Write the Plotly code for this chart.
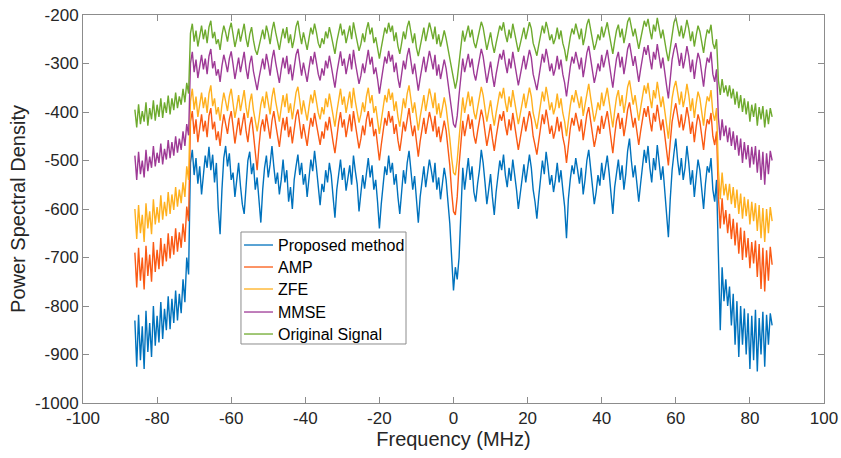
import numpy as np
import plotly.graph_objects as go

# frequency bins (MHz): -86 ... 86 in 0.5 MHz steps
f_start, f_step = -86.0, 0.5

proposed = [
    -830, -925, -818, -912, -842, -930, -810, -895, -835, -905,
    -800, -882, -820, -875, -792, -868, -806, -850, -780, -848,
    -785, -835, -768, -830, -775, -815, -745, -792, -700, -735,
    -505, -478, -530, -495, -548, -512, -570, -528, -490, -515,
    -472, -520, -488, -545, -505, -598, -652, -560, -495, -470,
    -512, -485, -540, -525, -575, -540, -505, -552, -590, -610,
    -548, -500, -482, -528, -506, -560, -535, -580, -628, -560,
    -515, -490, -535, -508, -470, -512, -548, -525, -570, -540,
    -498, -545, -520, -585, -555, -600, -540, -512, -488, -530,
    -505, -550, -528, -575, -532, -498, -522, -480, -515, -560,
    -592, -548, -565, -520, -545, -505, -530, -575, -618, -560,
    -525, -498, -540, -515, -562, -535, -510, -550, -490, -522,
    -548, -605, -570, -530, -558, -520, -495, -535, -510, -560,
    -540, -585, -640, -590, -545, -512, -530, -490, -525, -505,
    -550, -528, -575, -610, -565, -520, -548, -505, -480, -525,
    -560, -532, -590, -628, -575, -540, -512, -555, -530, -498,
    -520, -545, -505, -560, -535, -580, -548, -515, -540, -585,
    -630, -700, -768, -720, -745, -700, -595, -515, -560, -530,
    -495, -540, -512, -565, -585, -548, -520, -478, -505, -545,
    -590, -560, -528, -575, -612, -565, -530, -500, -520, -488,
    -530, -555, -515, -542, -498, -525, -560, -600, -570, -540,
    -508, -545, -520, -488, -515, -560, -585, -620, -575, -535,
    -500, -528, -482, -512, -550, -530, -565, -540, -505, -545,
    -520, -560, -595, -660, -580, -540, -510, -528, -495, -520,
    -548, -515, -570, -540, -500, -478, -515, -545, -590, -565,
    -530, -552, -505, -540, -512, -490, -525, -572, -610, -555,
    -520, -498, -540, -510, -560, -528, -480, -455, -500, -535,
    -510, -552, -585, -548, -512, -478, -505, -470, -515, -545,
    -495, -520, -468, -505, -540, -512, -560, -600, -658, -580,
    -520, -485, -455, -500, -530, -495, -540, -515, -470, -505,
    -550, -520, -575, -535, -498, -520, -560, -600, -548, -512,
    -525, -495, -560, -585, -540, -705, -850, -720, -790, -745,
    -800, -760, -840, -775, -880, -790, -905, -800, -880, -805,
    -900, -815, -930, -820, -912, -808, -935, -825, -900, -812,
    -925, -818, -880, -815, -840,
]

amp = [
    -690, -762, -680, -748, -700, -766, -676, -738, -694, -750,
    -668, -730, -684, -724, -660, -718, -672, -708, -650, -702,
    -656, -694, -640, -688, -648, -680, -630, -668, -595, -625,
    -420, -398, -445, -415, -462, -430, -405, -440, -418, -452,
    -408, -392, -436, -420, -458, -440, -470, -432, -405, -425,
    -445, -415, -398, -430, -465, -438, -412, -448, -425, -402,
    -438, -462, -428, -410, -445, -478, -520, -470, -432, -415,
    -440, -405, -428, -455, -418, -398, -425, -450, -472, -440,
    -412, -438, -410, -452, -430, -465, -440, -408, -395, -428,
    -455, -425, -448, -470, -438, -412, -430, -402, -425, -452,
    -468, -440, -455, -420, -438, -410, -432, -462, -485, -450,
    -422, -400, -432, -415, -452, -428, -405, -440, -398, -425,
    -446, -475, -455, -428, -448, -415, -398, -430, -412, -450,
    -435, -462, -500, -468, -440, -412, -428, -398, -422, -408,
    -445, -425, -458, -480, -452, -420, -440, -410, -392, -425,
    -450, -428, -466, -492, -460, -432, -412, -445, -425, -400,
    -418, -440, -408, -452, -430, -462, -440, -418, -438, -470,
    -510, -565, -605, -612, -575, -510, -455, -418, -450, -428,
    -405, -435, -415, -448, -465, -440, -420, -395, -412, -442,
    -470, -448, -425, -455, -480, -452, -428, -405, -418, -398,
    -428, -448, -415, -438, -402, -425, -450, -478, -455, -432,
    -410, -440, -420, -398, -415, -450, -468, -488, -460, -430,
    -405, -425, -395, -418, -445, -428, -455, -438, -410, -440,
    -420, -452, -470, -505, -462, -435, -412, -428, -402, -420,
    -440, -415, -458, -432, -405, -390, -418, -440, -472, -452,
    -428, -445, -408, -435, -415, -398, -425, -460, -485, -448,
    -418, -402, -435, -412, -450, -425, -395, -380, -408, -432,
    -412, -445, -468, -440, -415, -392, -410, -388, -418, -440,
    -402, -420, -385, -410, -438, -415, -450, -475, -510, -462,
    -420, -398, -382, -408, -432, -405, -438, -418, -390, -412,
    -445, -420, -462, -430, -405, -420, -450, -478, -440, -415,
    -425, -402, -450, -468, -440, -575, -640, -578, -632, -602,
    -650, -610, -662, -620, -675, -628, -692, -638, -705, -645,
    -700, -660, -722, -668, -712, -665, -740, -672, -765, -680,
    -770, -685, -748, -678, -715,
]

zfe = [
    -600, -662, -592, -650, -612, -668, -588, -640, -605, -652,
    -580, -632, -596, -628, -572, -622, -585, -615, -565, -610,
    -570, -602, -555, -595, -560, -588, -545, -575, -512, -540,
    -378, -352, -395, -368, -410, -382, -360, -392, -370, -402,
    -362, -345, -388, -372, -405, -390, -418, -385, -360, -378,
    -398, -368, -352, -382, -412, -390, -365, -398, -378, -355,
    -390, -412, -380, -362, -396, -420, -440, -415, -385, -368,
    -392, -358, -380, -405, -370, -350, -378, -402, -420, -392,
    -365, -390, -362, -402, -382, -415, -392, -360, -348, -380,
    -405, -376, -398, -418, -390, -364, -382, -355, -378, -402,
    -415, -390, -405, -372, -390, -362, -385, -412, -430, -400,
    -375, -352, -385, -368, -402, -380, -358, -392, -350, -378,
    -398, -422, -405, -380, -400, -368, -350, -382, -365, -402,
    -388, -412, -445, -418, -392, -365, -380, -352, -375, -360,
    -398, -378, -410, -430, -402, -372, -392, -362, -345, -378,
    -402, -380, -415, -438, -410, -385, -365, -398, -378, -352,
    -370, -392, -360, -405, -382, -412, -392, -370, -390, -418,
    -455, -495, -525, -530, -500, -455, -405, -370, -402, -382,
    -358, -388, -368, -400, -415, -392, -372, -348, -365, -395,
    -420, -398, -376, -405, -428, -402, -380, -358, -372, -350,
    -380, -400, -368, -390, -355, -378, -402, -425, -405, -384,
    -362, -392, -372, -350, -368, -402, -418, -435, -410, -382,
    -358, -378, -348, -370, -396, -380, -405, -390, -362, -392,
    -372, -402, -420, -450, -412, -388, -365, -380, -355, -372,
    -392, -368, -408, -385, -358, -342, -370, -392, -420, -402,
    -380, -396, -360, -388, -368, -350, -378, -410, -432, -398,
    -370, -355, -388, -365, -402, -378, -348, -335, -360, -385,
    -365, -398, -418, -392, -368, -345, -362, -340, -370, -392,
    -355, -372, -338, -362, -390, -368, -402, -425, -455, -412,
    -372, -350, -336, -360, -385, -358, -390, -370, -342, -365,
    -398, -372, -412, -382, -358, -372, -402, -428, -392, -368,
    -378, -355, -402, -418, -392, -520, -580, -525, -572, -548,
    -582, -548, -590, -555, -598, -560, -610, -568, -620, -575,
    -615, -580, -632, -585, -625, -588, -645, -592, -660, -598,
    -668, -600, -650, -596, -625,
]

mmse = [
    -490, -540, -482, -528, -500, -535, -478, -522, -492, -515,
    -470, -512, -484, -505, -465, -508, -476, -498, -458, -495,
    -462, -490, -450, -484, -455, -478, -440, -470, -425, -448,
    -300, -276, -318, -292, -330, -305, -282, -312, -290, -322,
    -285, -270, -310, -295, -325, -312, -338, -305, -282, -298,
    -318, -290, -275, -302, -332, -310, -288, -318, -298, -276,
    -310, -332, -300, -284, -316, -340, -355, -330, -305, -290,
    -312, -280, -300, -325, -292, -272, -298, -322, -340, -312,
    -288, -310, -284, -322, -302, -335, -312, -282, -270, -300,
    -325, -298, -318, -338, -310, -285, -302, -276, -298, -322,
    -335, -310, -325, -294, -310, -284, -305, -332, -350, -320,
    -296, -275, -305, -290, -322, -300, -280, -312, -272, -298,
    -318, -342, -325, -300, -320, -290, -272, -302, -286, -322,
    -308, -332, -362, -336, -312, -286, -300, -274, -296, -282,
    -318, -298, -330, -350, -322, -294, -312, -284, -268, -298,
    -322, -300, -335, -356, -330, -305, -286, -318, -298, -274,
    -292, -312, -282, -325, -302, -332, -312, -292, -310, -338,
    -365, -400, -425, -432, -408, -365, -320, -290, -318, -300,
    -280, -308, -290, -320, -335, -312, -292, -270, -286, -315,
    -340, -318, -296, -325, -348, -322, -300, -280, -292, -272,
    -300, -320, -290, -310, -276, -298, -322, -345, -325, -304,
    -284, -312, -292, -272, -288, -322, -338, -355, -330, -302,
    -280, -298, -270, -290, -316, -300, -325, -310, -284, -312,
    -292, -322, -340, -368, -332, -308, -286, -300, -276, -292,
    -312, -288, -328, -305, -278, -264, -290, -312, -340, -322,
    -300, -316, -282, -308, -288, -272, -298, -330, -350, -318,
    -290, -276, -308, -286, -322, -298, -270, -258, -282, -305,
    -285, -318, -338, -312, -288, -266, -282, -262, -290, -312,
    -276, -292, -260, -282, -310, -288, -322, -345, -372, -332,
    -292, -272, -258, -280, -305, -278, -310, -290, -264, -285,
    -318, -292, -332, -302, -278, -292, -322, -348, -312, -288,
    -298, -276, -322, -338, -312, -412, -458, -415, -450, -428,
    -462, -432, -470, -440, -478, -448, -490, -455, -505, -462,
    -498, -468, -515, -472, -508, -470, -525, -478, -540, -482,
    -550, -485, -528, -480, -500,
]

original = [
    -395, -432, -384, -425, -398, -420, -380, -428, -392, -415,
    -376, -418, -385, -410, -372, -412, -380, -402, -366, -405,
    -372, -396, -360, -392, -368, -385, -352, -380, -340, -362,
    -238, -218, -255, -232, -265, -242, -222, -250, -230, -258,
    -225, -212, -248, -235, -260, -250, -272, -242, -222, -236,
    -255, -230, -216, -240, -266, -248, -228, -255, -236, -218,
    -248, -266, -240, -225, -252, -272, -282, -262, -242, -230,
    -250, -222, -238, -260, -232, -214, -236, -258, -272, -248,
    -228, -248, -225, -258, -240, -268, -250, -224, -212, -238,
    -260, -236, -254, -272, -248, -226, -240, -218, -236, -258,
    -268, -248, -260, -234, -248, -225, -242, -265, -280, -255,
    -236, -218, -242, -230, -258, -240, -222, -250, -215, -236,
    -254, -274, -260, -238, -256, -230, -215, -240, -226, -258,
    -246, -266, -290, -268, -248, -226, -238, -216, -235, -222,
    -254, -236, -264, -280, -258, -234, -250, -225, -212, -236,
    -258, -238, -268, -285, -264, -242, -226, -254, -236, -216,
    -232, -250, -224, -260, -240, -265, -250, -232, -248, -270,
    -288, -315, -338, -352, -332, -298, -262, -232, -255, -240,
    -222, -246, -230, -256, -268, -250, -232, -214, -226, -252,
    -272, -254, -236, -260, -278, -258, -240, -222, -232, -215,
    -240, -256, -230, -248, -218, -236, -258, -276, -260, -242,
    -226, -250, -232, -215, -228, -258, -270, -284, -262, -240,
    -222, -238, -214, -230, -252, -240, -260, -248, -226, -250,
    -232, -258, -272, -295, -265, -246, -228, -240, -218, -232,
    -250, -228, -262, -244, -220, -208, -230, -250, -272, -258,
    -240, -252, -224, -246, -230, -215, -238, -264, -280, -254,
    -232, -220, -246, -228, -258, -238, -214, -205, -225, -244,
    -228, -254, -270, -250, -230, -212, -224, -208, -232, -250,
    -220, -234, -206, -225, -248, -230, -258, -276, -295, -265,
    -234, -216, -205, -224, -244, -222, -248, -232, -210, -228,
    -254, -234, -265, -242, -222, -234, -258, -278, -250, -230,
    -238, -220, -258, -270, -250, -335, -365, -332, -360, -345,
    -368, -345, -372, -352, -385, -358, -392, -365, -400, -372,
    -405, -378, -420, -385, -410, -382, -428, -390, -415, -388,
    -432, -395, -425, -392, -410,
]

series_names = ["Proposed method", "AMP", "ZFE", "MMSE", "Original Signal"]
series_values = [proposed, amp, zfe, mmse, original]
series_colors = ["#0072BD", "#FA5A14", "#FFB01E", "#9E3A96", "#6EAA2E"]

x_ticks = [-100, -80, -60, -40, -20, 0, 20, 40, 60, 80, 100]
y_ticks = [-1000, -900, -800, -700, -600, -500, -400, -300, -200]

lengths = [len(v) for v in series_values]
if len(set(lengths)) != 1:
    raise ValueError(f"length mismatch: {lengths}")
freq = np.round(f_start + f_step * np.arange(lengths[0]), 2)

FONT = "Liberation Sans, Arial, sans-serif"
AXC = "#8c8c8c"

fig = go.Figure()
for name, vals, col in zip(series_names, series_values, series_colors):
    fig.add_trace(go.Scatter(x=freq, y=vals, mode="lines", name=name,
                             line=dict(color=col, width=1.4), showlegend=False))

# legend drawn as a framed box (paper coordinates)
leg_x0, leg_x1, leg_y0, leg_y1 = 0.2132, 0.4359, 0.1521, 0.4407
line_x0, line_x1, text_x = 0.2173, 0.2564, 0.2605
row_y = [0.4072, 0.3505, 0.2938, 0.2345, 0.1778]
shapes = [dict(type="rect", xref="paper", yref="paper", x0=leg_x0, x1=leg_x1,
               y0=leg_y0, y1=leg_y1, line=dict(color=AXC, width=1),
               fillcolor="white", layer="above")]
annotations = []
for name, col, yy in zip(series_names, series_colors, row_y):
    shapes.append(dict(type="line", xref="paper", yref="paper", x0=line_x0, x1=line_x1,
                       y0=yy, y1=yy, line=dict(color=col, width=1.3), layer="above"))
    annotations.append(dict(xref="paper", yref="paper", x=text_x, y=yy, text=name,
                            showarrow=False, xanchor="left", yanchor="middle",
                            font=dict(family=FONT, size=16, color="#000000")))

axis_common = dict(showline=True, linecolor=AXC, linewidth=1, mirror="ticks",
                   ticks="inside", ticklen=6, tickcolor=AXC, showgrid=False,
                   zeroline=False, automargin=False,
                   tickfont=dict(family=FONT, size=17, color="#262626"))

fig.update_layout(
    width=841, height=458,
    margin=dict(l=83, r=17, t=15, b=55),
    plot_bgcolor="white", paper_bgcolor="white",
    font=dict(family=FONT, color="#262626"),
    xaxis=dict(range=[-100, 100], tickvals=x_ticks, ticktext=[str(v) for v in x_ticks],
               title=dict(text="Frequency (MHz)", font=dict(family=FONT, size=20, color="#262626"), standoff=0),
               **axis_common),
    yaxis=dict(range=[-1000, -200], tickvals=y_ticks, ticktext=[str(v) for v in y_ticks],
               title=dict(text="Power Spectral Density", font=dict(family=FONT, size=20, color="#262626"), standoff=4),
               **axis_common),
    shapes=shapes,
    annotations=annotations,
    showlegend=False,
)

fig.write_html("out.html", config={"displayModeBar": False},
               post_script="document.body.style.margin='0';document.body.style.overflow='hidden';")
